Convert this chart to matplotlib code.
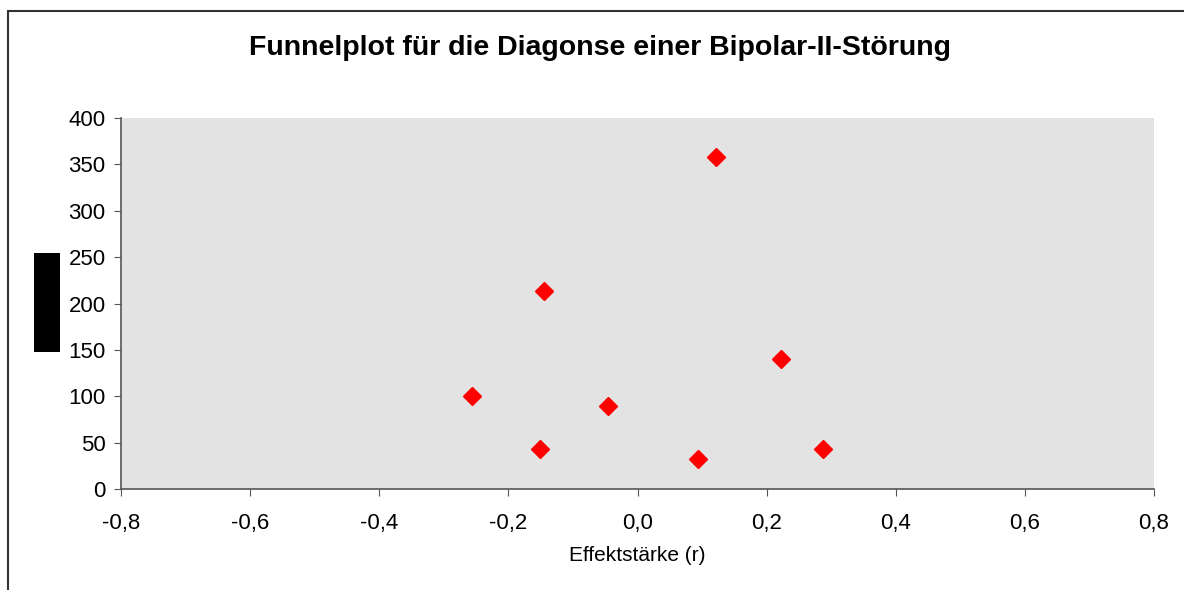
import matplotlib.pyplot as plt
from matplotlib.patches import Rectangle
from matplotlib.ticker import FuncFormatter

plt.rcParams['font.family'] = ['Liberation Sans', 'DejaVu Sans']

# Effektstärken (r) und Stichprobengrößen (N)
effekt_r = [0.121, -0.145, 0.223, -0.257, -0.046, -0.151, 0.093, 0.287]
stichprobe_n = [358, 213, 140, 100, 89, 43, 32, 43]

W, H = 1184, 590
fig = plt.figure(figsize=(W / 100, H / 100), dpi=100)
ax = fig.add_axes([121 / W, 1 - 489 / H, (1154 - 121) / W, (489 - 118) / H])

# Rahmen um das Diagramm (rechts/unten abgeschnitten)
fig.patches.append(Rectangle((8 / W, -0.05), 1.2, 1 - 11 / H + 0.05, transform=fig.transFigure,
                             fill=False, edgecolor='#333333', lw=1.5))
# geschwärzte y-Achsenbeschriftung
fig.patches.append(Rectangle((34 / W, 1 - 352 / H), 26 / W, 99 / H, transform=fig.transFigure,
                             facecolor='black', edgecolor='none'))

ax.set_facecolor('#E3E3E3')
ax.plot(effekt_r, stichprobe_n, linestyle='none', marker='D', markersize=9.5,
        color='#FF0000', markeredgecolor='#FF0000')

ax.set_xlim(-0.8, 0.8)
ax.set_ylim(0, 400)
ax.set_xticks([-0.8, -0.6, -0.4, -0.2, 0.0, 0.2, 0.4, 0.6, 0.8])
ax.set_yticks(range(0, 401, 50))
ax.xaxis.set_major_formatter(FuncFormatter(lambda v, p: f'{v:.1f}'.replace('.', ',')))

for side in ['top', 'right']:
    ax.spines[side].set_visible(False)
for side in ['left', 'bottom']:
    ax.spines[side].set_color('#555555')
    ax.spines[side].set_linewidth(1.2)
ax.tick_params(direction='out', length=5, color='#555555', labelsize=16)
ax.tick_params(axis='x', pad=12)
ax.tick_params(axis='y', pad=6)

ax.set_xlabel('Effektstärke (r)', fontsize=15, labelpad=9)
fig.text(600 / W, 1 - 48 / H, 'Funnelplot für die Diagonse einer Bipolar-II-Störung',
         ha='center', va='center', fontsize=20.5, fontweight='bold')

fig.savefig('out.png', dpi=100)
